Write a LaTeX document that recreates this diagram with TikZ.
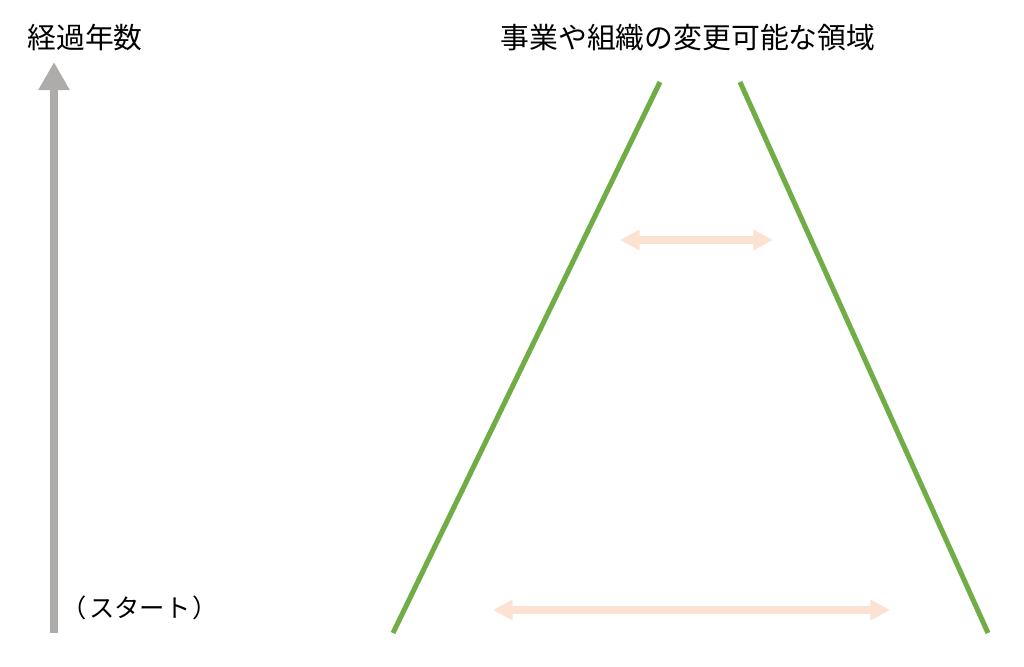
\documentclass[tikz,border=0pt]{standalone}
\usepackage{fontspec}
\setmainfont{Noto Sans CJK JP}
\usetikzlibrary{arrows.meta}
\definecolor{axisgray}{HTML}{AEABAB}
\definecolor{slopegreen}{HTML}{70AD47}
\definecolor{spanpink}{HTML}{FBE2D2}
\tikzset{
  bigtext/.style={font=\fontsize{20.5pt}{24pt}\selectfont, inner sep=0pt},
  smalltext/.style={font=\fontsize{18pt}{21pt}\selectfont, inner sep=0pt, anchor=west},
  slope/.style={slopegreen, line width=3.6pt},
  span/.style={spanpink, line width=5pt, {Triangle[width=14pt,length=14pt]}-{Triangle[width=14pt,length=14pt]}}
}
\begin{document}
\begin{tikzpicture}[x=0.025cm, y=-0.025cm]
\useasboundingbox (0,0) rectangle (1024,666);
% labels
\node[bigtext] (years) at (85,38) {経過年数};
\node[bigtext] (title) at (688,38) {事業や組織の変更可能な領域};
\node[smalltext] (start) at (61,608) {（\hspace{0.1em}スタート\hspace{0.1em}）};
% time axis
\coordinate (axisbot) at (54,633);
\coordinate (axistop) at (54,62);
\draw[axisgray, line width=6pt, -{Triangle[width=21pt,length=20pt]}] (axisbot) -- (axistop);
% sides of the area
\coordinate (lbot) at (393,633);
\coordinate (ltop) at (660,82);
\coordinate (rtop) at (740,82);
\coordinate (rbot) at (988,633);
\draw[slope] (lbot) -- (ltop);
\draw[slope] (rtop) -- (rbot);
% widths
\coordinate (upl) at (620,240);
\coordinate (upr) at (773,240);
\coordinate (lowl) at (493,610);
\coordinate (lowr) at (890,610);
\draw[span] (upl) -- (upr);
\draw[span] (lowl) -- (lowr);
\end{tikzpicture}
\end{document}
